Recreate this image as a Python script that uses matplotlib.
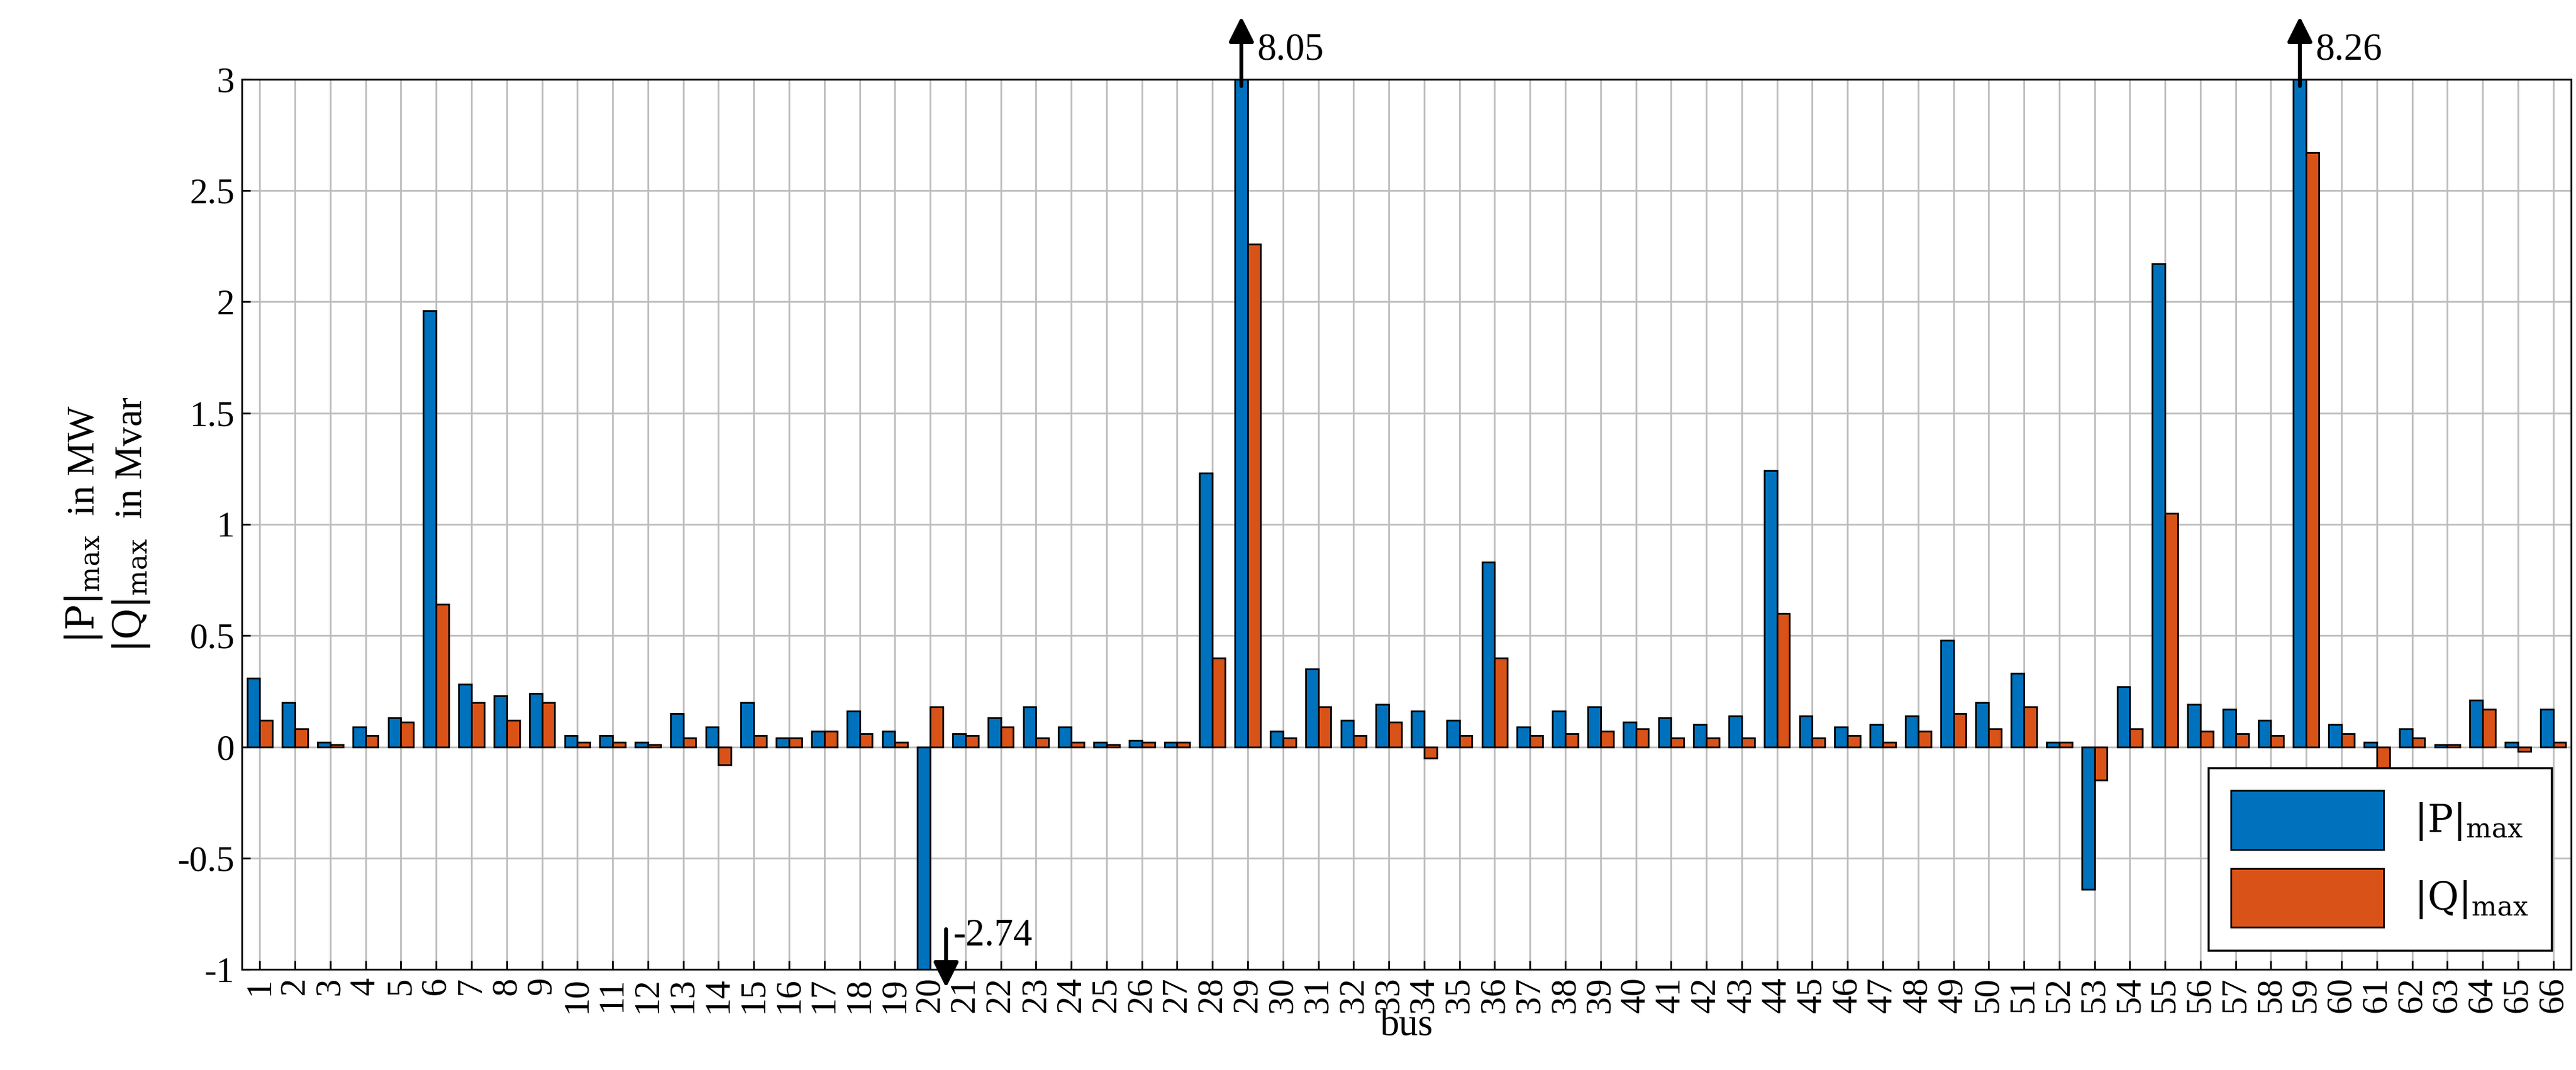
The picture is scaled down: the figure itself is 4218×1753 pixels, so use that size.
import matplotlib
matplotlib.use("Agg")
import matplotlib.pyplot as plt
import numpy as np

buses = list(range(1, 67))
P = [0.31,0.20,0.02,0.09,0.13,1.96,0.28,0.23,0.24,0.05,0.05,0.02,0.15,0.09,0.20,0.04,0.07,0.16,0.07,-2.74,
     0.06,0.13,0.18,0.09,0.02,0.03,0.02,1.23,8.05,0.07,0.35,0.12,0.19,0.16,0.12,0.83,0.09,0.16,0.18,0.11,
     0.13,0.10,0.14,1.24,0.14,0.09,0.10,0.14,0.48,0.20,0.33,0.02,-0.64,0.27,2.17,0.19,0.17,0.12,8.26,0.10,
     0.02,0.08,0.01,0.21,0.02,0.17]
Q = [0.12,0.08,0.01,0.05,0.11,0.64,0.20,0.12,0.20,0.02,0.02,0.01,0.04,-0.08,0.05,0.04,0.07,0.06,0.02,0.18,
     0.05,0.09,0.04,0.02,0.01,0.02,0.02,0.40,2.26,0.04,0.18,0.05,0.11,-0.05,0.05,0.40,0.05,0.06,0.07,0.08,
     0.04,0.04,0.04,0.60,0.04,0.05,0.02,0.07,0.15,0.08,0.18,0.02,-0.15,0.08,1.05,0.07,0.06,0.05,2.67,0.06,
     -0.14,0.04,0.01,0.17,-0.02,0.02]
ymin, ymax = -1, 3

plt.rcParams['font.family'] = ['Liberation Serif', 'DejaVu Serif']
plt.rcParams['mathtext.fontset'] = 'dejavuserif'
fig = plt.figure(figsize=(16.872, 7.012), dpi=250)
ax = fig.add_axes([0.094, 0.094, 0.904, 0.832])
x = np.array(buses)
w = 0.36
Pc = np.clip(P, ymin, ymax); Qc = np.clip(Q, ymin, ymax)
ax.bar(x - w/2, Pc, w, color='#0072BD', edgecolor='black', linewidth=0.8, label=r'$|\mathrm{P}|_{\mathrm{max}}$', zorder=3)
ax.bar(x + w/2, Qc, w, color='#D95319', edgecolor='black', linewidth=0.8, label=r'$|\mathrm{Q}|_{\mathrm{max}}$', zorder=3)
ax.set_xlim(0.5, 66.5)
ax.set_ylim(ymin, ymax)
ax.set_xticks(x)
ax.set_xticklabels([str(b) for b in buses], rotation=90, fontsize=17)
ax.set_yticks([-1,-0.5,0,0.5,1,1.5,2,2.5,3])
ax.set_yticklabels(['-1','-0.5','0','0.5','1','1.5','2','2.5','3'], fontsize=17)
ax.grid(True, color='#bdbdbd', linewidth=0.8, zorder=0)
ax.tick_params(direction='in', length=4)
ax.set_xlabel('bus', fontsize=18, labelpad=-2)
ax.set_ylabel(r'$|\mathrm{P}|_{\mathrm{max}}$  in MW' + '\n' + r'$|\mathrm{Q}|_{\mathrm{max}}$  in Mvar', fontsize=18, labelpad=12)
for i, v in enumerate(P):
    if v > ymax:
        xb = x[i] - w/2
        ax.annotate('', xy=(xb, ymax + 0.3), xytext=(xb, ymax - 0.05),
                    arrowprops=dict(arrowstyle='-|>', color='black', lw=1.8, mutation_scale=25), annotation_clip=False)
        ax.text(xb + 0.45, ymax + 0.13, f'{v:.2f}', fontsize=18, va='center', clip_on=False)
    elif v < ymin:
        xb = x[i] + 0.45
        ax.annotate('', xy=(xb, ymin - 0.1), xytext=(xb, ymin + 0.2),
                    arrowprops=dict(arrowstyle='-|>', color='black', lw=1.8, mutation_scale=25), annotation_clip=False)
        ax.text(xb + 0.2, ymin + 0.15, f'{v:.2f}', fontsize=18, va='center', clip_on=False)
leg = ax.legend(loc='lower right', fontsize=18, handlelength=4, handleheight=2.0, fancybox=False,
                edgecolor='black', framealpha=1, borderpad=0.6)
leg.get_frame().set_linewidth(1.0)
fig.savefig('out.png', dpi=250)
